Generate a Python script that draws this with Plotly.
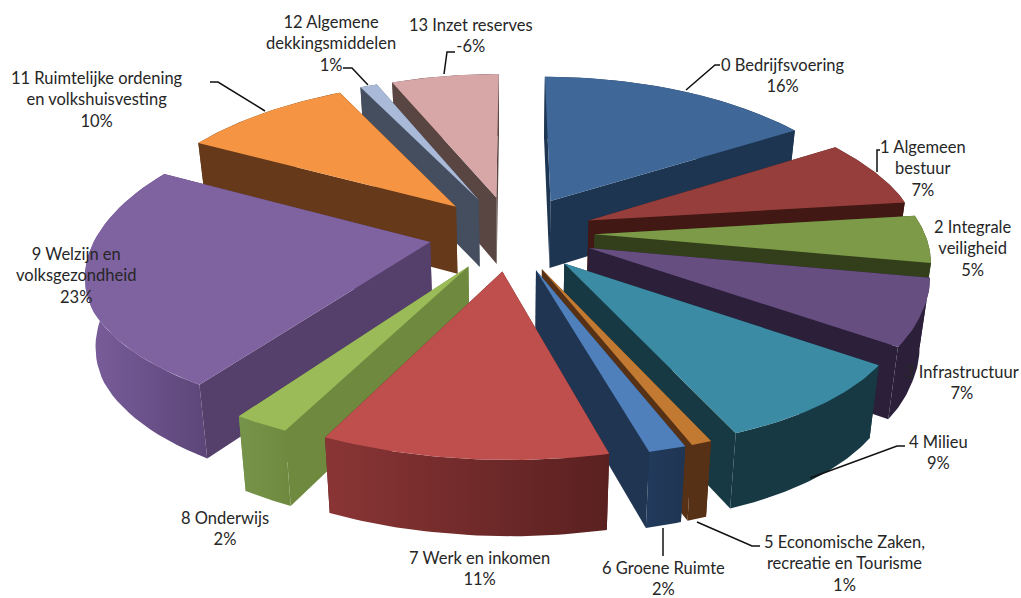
import numpy as np
import plotly.graph_objects as go

names = ["0 Bedrijfsvoering", "1 Algemeen<br>bestuur", "2 Integrale<br>veiligheid", "3 Infrastructuur",
         "4 Milieu", "5 Economische Zaken,<br>recreatie en Tourisme", "6 Groene Ruimte", "7 Werk en inkomen",
         "8 Onderwijs", "9 Welzijn en<br>volksgezondheid", "11 Ruimtelijke ordening<br>en volkshuisvesting",
         "12 Algemene<br>dekkingsmiddelen", "13 Inzet reserves"]
values = [16, 7, 5, 7, 8.9, 0.83, 1.5, 11.07, 2.19, 23.4, 9.8, 1, -6.31]

top_colors = ["#3F6797", "#953E3B", "#7C9A47", "#664E80", "#3A8BA3", "#C27A32", "#4F80BC",
              "#BE4F4C", "#9BBB59", "#7F62A0", "#F59543", "#A9BAD9", "#D7A6A6"]
wall_colors = ["#1D3550", "#421814", "#333E1B", "#2B1F3A", "#163943", "#573116", "#1F3552",
               "#5A2222", "#6F8A3F", "#54406A", "#653919", "#444E5F", "#594541"]
outer_left = ["#1D3550", "#421814", "#333E1B", "#2B1F3A", "#163943", "#573116", "#223A5C",
              "#8A3535", "#76944A", "#7A5E9C", "#653919", "#444E5F", "#594541"]
outer_right = ["#1D3550", "#421814", "#333E1B", "#2B1F3A", "#163943", "#573116", "#1F3552",
               "#5A2020", "#6F8A3F", "#5C4678", "#653919", "#444E5F", "#594541"]

label_xy = [(783, 75), (923, 168), (973, 248), (962, 382), (938, 452), (844, 563), (663, 578),
            (479, 568), (225, 528), (76, 275), (97, 99), (331, 43), (471, 35)]
leaders = [[(686, 90), (715, 65), (720, 65)], [(877, 172), (877, 150), (880, 150)], None, None,
           [(810, 478), (897, 446), (905, 446)], [(697, 522), (752, 546), (760, 546)],
           [(663, 528), (663, 556)], None, None, None,
           [(265, 111), (218, 82), (210, 82)], [(368, 85), (352, 68), (343, 68)],
           [(444, 74), (447, 52), (455, 52)]]

CX, CY = 512.0, 233.0
A, B, K, KX = 333.0, 150.0, 0.14, 0.18
EXPLODE = 0.25
ROT = 0.0
H0 = 68.0
CONV = 0.975


def project(X, Y, depth=0.0):
    X, Y = np.asarray(X, float), np.asarray(Y, float)
    w = 1 + K * Y
    sx = A * X / (1 + KX * Y)
    sx = np.where(X > 0, sx * (1 - 0.03 * np.clip(0.3 - Y, 0, 1)), sx)
    sx = sx + 16 * np.clip(-Y - 0.5, 0, None)
    sy = -B * Y / w + depth * H0 / w ** 0.6
    sx = sx * (1 - depth * (1 - CONV))
    return CX + sx, CY + sy


fig = go.Figure()
mags = np.abs(values)
edges = np.concatenate([[0], np.cumsum(mags)]) * 3.6 + ROT


def poly(x, y, color=None, grad=None):
    kw = dict(fillcolor=color) if grad is None else dict(fillgradient=grad)
    fig.add_trace(go.Scatter(x=list(x), y=list(y), mode="lines", fill="toself",
                             line=dict(width=0), hoverinfo="skip", showlegend=False, **kw))


order = sorted(range(len(values)), key=lambda i: -np.cos(np.radians((edges[i] + edges[i + 1]) / 2)))
for i in order:
    t0, t1 = np.radians(edges[i]), np.radians(edges[i + 1])
    mid = (t0 + t1) / 2
    ox, oy = EXPLODE * np.sin(mid), EXPLODE * np.cos(mid)
    th = np.linspace(t0, t1, 40)
    ax, ay = ox + np.sin(th), oy + np.cos(th)

    def radial(t, c):
        px = [ox, ox + np.sin(t), ox + np.sin(t), ox]
        py = [oy, oy + np.cos(t), oy + np.cos(t), oy]
        d = [0, 0, 1, 1]
        xs, ys = zip(*[project(a, b, e) for a, b, e in zip(px, py, d)])
        poly([float(v) for v in xs], [float(v) for v in ys], c)

    start_front = np.cos(t0 - np.pi / 2) < 0
    end_front = np.cos(t1 + np.pi / 2) < 0
    if not start_front:
        radial(t0, wall_colors[i])
    if not end_front:
        radial(t1, wall_colors[i])
    tx, ty = project(ax, ay, 0)
    bx, by = project(ax, ay, 1)
    ox_all = np.concatenate([tx, bx[::-1]])
    oy_all = np.concatenate([ty, by[::-1]])
    grad = dict(type="horizontal", colorscale=[[0, outer_left[i]], [1, outer_right[i]]])
    poly(ox_all, oy_all, grad=grad)
    if start_front:
        radial(t0, wall_colors[i])
    if end_front:
        radial(t1, wall_colors[i])
    ax0, ay0 = project(np.array([ox]), np.array([oy]), 0)
    poly(np.concatenate([ax0, tx]), np.concatenate([ay0, ty]), top_colors[i])

for ln in leaders:
    if ln:
        fig.add_trace(go.Scatter(x=[p[0] for p in ln], y=[p[1] for p in ln], mode="lines",
                                 line=dict(color="#111111", width=1.5), hoverinfo="skip", showlegend=False))

for n, v, (x, y) in zip(names, values, label_xy):
    fig.add_annotation(x=x, y=y, text=f"{n}<br>{round(v)}%", showarrow=False, xanchor="center", yanchor="middle",
                       align="center", font=dict(family="Lato", size=16.5, color="#262626"))

fig.update_xaxes(range=[0, 1021], visible=False, fixedrange=True)
fig.update_yaxes(range=[598, 0], visible=False, fixedrange=True)
fig.update_layout(width=1021, height=598, margin=dict(l=0, r=0, t=0, b=0),
                  paper_bgcolor="white", plot_bgcolor="white", showlegend=False)
fig.write_html("out.html", config=dict(displayModeBar=False),
               post_script="document.body.style.margin='0';document.body.style.overflow='hidden';")
